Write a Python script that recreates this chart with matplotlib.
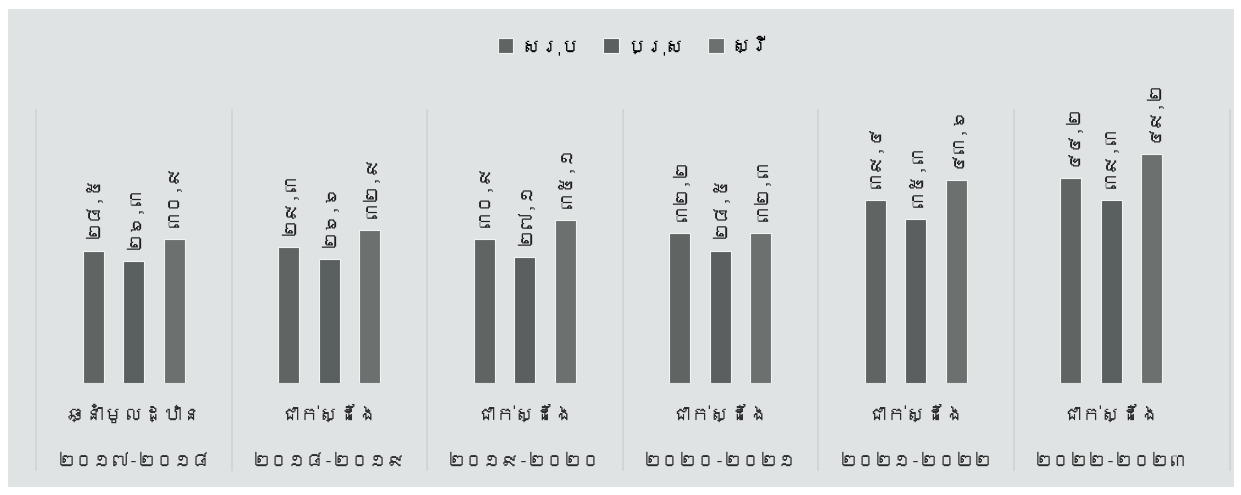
import matplotlib
matplotlib.use("Agg")
import matplotlib.pyplot as plt
import matplotlib.font_manager as fm
from matplotlib.patches import Rectangle
import numpy as np

# data (Khmer numerals)
years = ["២០១៧-២០១៨", "២០១៨-២០១៩", "២០១៩-២០២០", "២០២០-២០២១", "២០២១-២០២២", "២០២២-២០២៣"]
kinds = ["ឆ្នាំមូលដ្ឋាន", "ជាក់ស្ដែង", "ជាក់ស្ដែង", "ជាក់ស្ដែង", "ជាក់ស្ដែង", "ជាក់ស្ដែង"]
series_names = ["សរុប", "ប្រុស", "ស្រី"]
total = [28.5, 29.3, 30.9, 32.2, 39.4, 44.2]
male = [26.3, 26.6, 27.1, 28.5, 35.3, 39.3]
female = [30.9, 32.9, 35.1, 32.3, 43.6, 49.2]

khmer_digits = "០១២៣៤៥៦៧៨៩"


def to_khmer(v):
    s = f"{v:.1f}".replace(".", ",")
    return "".join(khmer_digits[int(c)] if c.isdigit() else c for c in s)


# look for any installed font that covers Khmer
def find_khmer_font():
    from matplotlib.ft2font import FT2Font
    for f in fm.fontManager.ttflist:
        try:
            ft = FT2Font(f.fname)
            if 0x1780 in ft.get_charmap():
                return f.name
        except Exception:
            continue
    return None


kfont = find_khmer_font()
families = [kfont, "DejaVu Sans"] if kfont else ["DejaVu Sans"]
plt.rcParams["font.family"] = families

bg = "#dfe3e3"
colors = ["#606564", "#5a5f5f", "#6c7170"]

fig = plt.figure(figsize=(12.41, 4.95), dpi=100, facecolor="white")
fig.patches.append(Rectangle((8 / 1241, 8 / 495), 1226 / 1241, 478 / 495,
                             transform=fig.transFigure, facecolor=bg,
                             edgecolor="none", zorder=-10))

ax = fig.add_axes([36 / 1241, (495 - 383) / 495, 1173 / 1241, 283 / 495])
ax.set_facecolor("none")
ax.set_xlim(-0.5, 5.5)
ax.set_ylim(0, 60.9)
for s in ax.spines.values():
    s.set_visible(False)
ax.set_xticks([])
ax.set_yticks([])

x = np.arange(len(years))
w = 0.108
step = 0.207
for i, (vals, c) in enumerate(zip([total, male, female], colors)):
    pos = x + (i - 1) * step
    ax.bar(pos, vals, width=w, color=c, edgecolor="#f2f4f4", linewidth=0.8,
           label=series_names[i], zorder=3)
    for px, v in zip(pos, vals):
        ax.text(px, v + 2.6, to_khmer(v), rotation=90, ha="center", va="bottom",
                fontsize=13, fontweight="bold", color="#1e1e1e")

# separators between groups
for b in np.arange(-0.5, 5.0, 1.0):
    ax.vlines(b, -19, 59, color="#cfd3d3", linewidth=1.2, clip_on=False, zorder=1)
fig.add_artist(plt.Line2D([1230 / 1241] * 2, [25 / 495, 385 / 495],
                          color="#cfd3d3", linewidth=1.2))

for xi, (k, yr) in enumerate(zip(kinds, years)):
    ax.text(xi, -6.5, k, ha="center", va="center", fontsize=14, color="#2a2a2a")
    ax.text(xi, -17, yr, ha="center", va="center", fontsize=13, color="#2a2a2a")

ax.legend(loc="upper center", bbox_to_anchor=(0.51, 1.285), ncol=3, frameon=False,
          fontsize=14, handlelength=0.8, handleheight=0.8, handletextpad=0.4,
          columnspacing=1.2)

fig.savefig("out.png", dpi=100, facecolor=fig.get_facecolor())
